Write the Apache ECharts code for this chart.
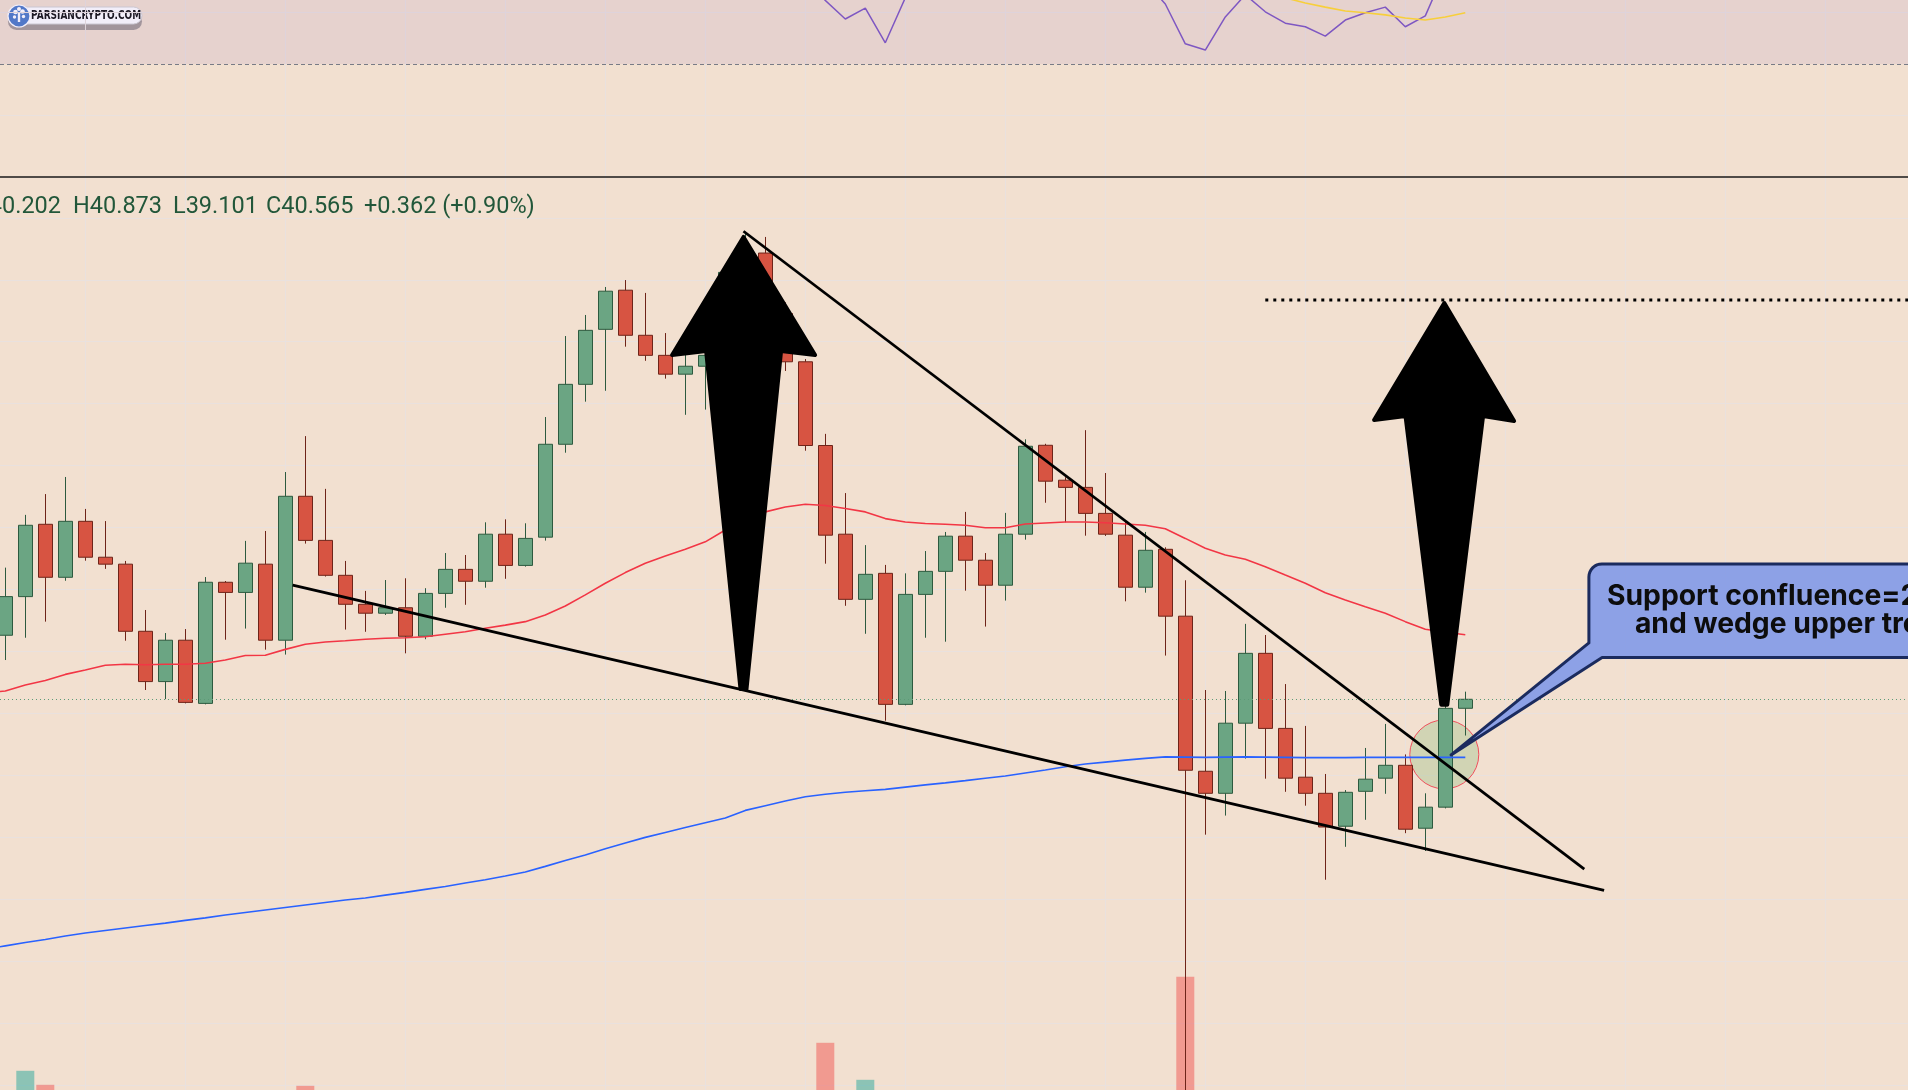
<!DOCTYPE html>
<html>
<head>
<meta charset="utf-8">
<script src="https://cdn.jsdelivr.net/npm/echarts@6/dist/echarts.min.js"></script>
<style>
html,body{margin:0;padding:0;background:#f2e0d0;overflow:hidden;}
#c{width:1908px;height:1090px;}
</style>
</head>
<body>
<div id="c"></div>
<script>
// ================= DATA =================
// daily candles (index 0 = first visible bar)
const candleOpen = [43.15,44.71,47.63,45.49,47.75,46.30,46.02,43.31,41.28,42.95,
  40.40,45.29,44.88,46.02,42.95,48.76,46.98,45.57,44.40,44.04,
  44.26,43.11,44.84,45.81,45.33,47.23,45.97,47.11,50.86,53.28,
  55.50,57.08,55.26,54.45,53.69,54.01,54.45,57.76,58.58,56.14,
  54.19,50.81,47.23,44.60,45.65,40.36,44.80,45.73,47.15,46.18,
  45.17,47.23,50.82,49.41,49.12,48.07,47.19,45.09,46.62,43.92,
  37.66,36.77,39.60,42.42,39.39,37.42,36.77,35.44,36.85,37.38,
  37.90,35.36,36.21,40.202];
const candleClose = [44.71,47.59,45.49,47.75,46.30,46.02,43.31,41.28,42.95,40.44,
  45.29,44.88,46.06,42.95,48.76,46.98,45.57,44.40,44.04,44.26,
  43.11,44.84,45.81,45.33,47.23,45.97,47.06,50.86,53.28,55.46,
  57.04,55.26,54.45,53.69,54.01,54.45,57.80,58.61,56.14,54.19,
  50.81,47.19,44.60,45.61,40.36,44.80,45.73,47.15,46.18,45.17,
  47.23,50.78,49.37,49.12,48.07,47.23,45.09,46.58,43.92,37.70,
  36.77,39.60,42.42,39.39,37.38,36.77,35.41,36.81,37.34,37.90,
  35.32,36.21,40.20,40.565];
const candleLow = [42.15,43.05,43.70,45.35,46.16,45.83,42.93,40.94,40.57,40.40,
  40.36,42.97,43.42,42.57,42.37,46.85,45.52,43.38,43.29,43.97,
  42.42,42.99,44.26,44.38,45.07,45.43,45.92,46.97,50.52,52.58,
  53.02,54.80,54.23,53.51,52.05,52.26,53.89,57.28,55.23,53.82,
  50.60,46.04,44.34,43.21,39.70,40.32,43.05,42.89,44.95,43.50,
  44.55,47.01,48.50,47.71,47.17,47.16,44.52,44.87,42.33,24.00,
  35.10,35.87,38.17,37.36,36.83,36.27,33.28,34.61,35.70,36.75,
  35.16,34.44,36.16,39.101];
const candleHigh = [45.88,48.01,48.85,49.54,48.25,47.76,46.15,44.17,43.24,43.40,
  45.50,45.34,46.96,47.36,49.74,51.19,49.06,46.15,44.94,45.38,
  45.45,45.05,46.47,46.39,47.71,47.83,47.67,51.96,55.23,56.08,
  57.21,57.49,56.97,55.35,54.67,54.60,58.03,59.44,59.23,56.59,
  54.30,51.28,48.89,46.79,45.99,45.65,46.55,47.32,48.13,46.47,
  48.09,51.06,50.88,49.53,51.43,49.70,47.74,47.32,46.70,45.37,
  40.94,40.90,43.61,43.16,41.18,39.49,37.55,36.90,38.60,39.57,
  38.34,36.77,40.77,40.873];
const volume = [40,76,62,35,30,28,42,45,38,44,
  50,30,33,46,52,61,40,32,26,24,
  30,28,26,25,34,30,27,48,50,44,
  42,40,33,30,28,26,47,38,45,40,
  50,104,54,67,55,52,36,38,32,30,
  34,48,36,28,40,33,44,35,50,170,
  55,50,46,44,40,32,45,36,30,33,
  42,34,52,20];
// moving averages; the first value belongs to the bar just left of the view
const ma50 = [40.83,
  40.90,41.14,41.32,41.57,41.75,41.94,41.98,41.96,41.98,41.98,
  42.02,42.15,42.33,42.34,42.58,42.79,42.88,42.93,42.99,43.03,
  43.05,43.09,43.19,43.29,43.43,43.56,43.70,43.97,44.33,44.78,
  45.25,45.68,46.06,46.35,46.62,46.92,47.40,47.88,48.13,48.33,
  48.44,48.39,48.27,48.13,47.86,47.72,47.66,47.63,47.59,47.49,
  47.49,47.64,47.68,47.72,47.72,47.69,47.64,47.59,47.45,47.06,
  46.66,46.39,46.22,45.92,45.58,45.25,44.87,44.57,44.30,44.04,
  43.70,43.39,43.27,43.17];
const ma200 = [30.47,
  30.61,30.75,30.87,31.01,31.13,31.23,31.33,31.43,31.53,31.64,
  31.74,31.86,31.96,32.06,32.16,32.26,32.36,32.46,32.54,32.66,
  32.77,32.89,33.01,33.15,33.28,33.43,33.59,33.82,34.06,34.28,
  34.53,34.76,34.99,35.19,35.39,35.58,35.77,36.08,36.27,36.46,
  36.63,36.73,36.81,36.87,36.93,37.02,37.11,37.19,37.28,37.38,
  37.47,37.59,37.71,37.84,37.95,38.03,38.11,38.18,38.24,38.23,
  38.22,38.23,38.24,38.23,38.22,38.21,38.21,38.21,38.22,38.22,
  38.22,38.22,38.22,38.22];
const rsi = [58,64,57,62,58,57,49,45,50,44,
  58,57,60,50,63,57,53,50,49,50,
  47,52,55,53,58,54,57,66,71,74,
  77,69,66,63,64,65,72,74,64,57,
  46.5,42.3,38.7,40.8,34.1,42.8,44.5,48,46,44,
  49,56,52,51,48,46,45,46,41.6,33.9,
  32.7,39.1,43.4,40.1,37.9,37.2,35.4,38.5,39.9,41.0,
  37.2,39.3,48.2,47.2];
const rsiMa = [56,56.5,56.3,56.8,56.9,57,56.5,55.8,55.4,54.7,
  55,54.9,55.2,54.6,55,54.9,54.5,54.2,53.9,53.6,
  53.1,52.9,53.4,53.6,54,54.3,54.5,55.5,56.8,58.4,
  60.1,61.3,62.5,63.3,64.3,65.2,66.6,68,68.4,68.2,
  66.6,64.5,61.8,59.5,56.8,54.6,52.8,51.2,49.4,47.5,
  46.3,46,46.3,46.6,47.5,47.3,47.1,46.9,46.6,46,
  45.4,44.9,44.4,43.6,42.8,41.8,41.0,40.25,39.9,39.5,
  38.9,38.5,39.1,39.9];
const lastOHLC = {o: 40.202, h: 40.873, l: 39.101, c: 40.565, chg: 0.362, pct: 0.90};
const timeSlots = 96;               // visible bars + empty future slots
const verticalGridBars = [4,9,14,20,25,30,35,40,45,50,55,60,65,70,75,81,86,91];
const rsiBand = [30, 70];
const rsiGridStep = 20;
const priceGridStep = 2.5;
// drawings (bar index, price)
const lowerTrend = [[14.37,45.17],[79.94,32.85]];
const upperTrend = [[36.91,59.46],[78.95,33.71]];
const targetLevel = [[63.0,56.68],[97,56.68]];
const arrowShapes = [
  [[36.91,59.23],[40.49,54.46],[38.79,54.63],[37.06,40.98],[36.76,40.98],[35.04,54.63],[33.34,54.46]],
  [[71.95,56.56],[75.44,51.80],[73.89,52.00],[72.10,40.34],[71.80,40.34],[70.01,52.00],[68.44,51.84]]
];
const circleMark = [71.95, 38.34];
const calloutTip = [72.29, 38.32];
const calloutBoxTopLeft = [79.18, 46.03];
const calloutBaseLeft = [79.18, 42.84];
const calloutBaseBottom = [79.84, 42.25];
const calloutLines = ['Support confluence=200 MA', 'and wedge upper trendline'];

// ================= CHART =================
const X_MIN = -0.265, X_MAX = 95.135;
const GRID_C = '#e9e1de';
const categories = Array.from({length: timeSlots}, (_, i) => 'B' + i);
const vSet = new Set(verticalGridBars);

const candleData = candleOpen.map((o, i) => [i, o, candleClose[i], candleLow[i], candleHigh[i]]);
const volData = volume.map((v, i) => ({
  value: [i, v],
  itemStyle: {color: candleClose[i] >= candleOpen[i] ? 'rgba(38,166,154,0.5)' : 'rgba(239,83,80,0.5)'}
}));
const pair = arr => arr.map((v, i) => [i, v]);
const pairFromPrev = arr => arr.map((v, i) => [i - 1, v]);

const chart = echarts.init(document.getElementById('c'), null, {renderer: 'canvas', width: 1908, height: 1090});

const hiddenAxisParts = {axisLine: {show: false}, axisTick: {show: false}, axisLabel: {show: false}};
const txt = (text, x, y, font, fill, align) => ({type: 'text', z: 50, silent: true,
  style: {text, x, y, font, fill, align, verticalAlign: 'middle', textAlign: align, textVerticalAlign: 'middle'}});

const option = {
  animation: false,
  backgroundColor: '#f2e0d0',
  grid: [
    {left: 5.3, width: 1900, top: 0, height: 1090},          // time gridlines for both panes
    {left: 0, width: 1908, top: 0, height: 219.1},            // RSI pane
    {left: 0, width: 1908, top: 177, height: 907.85},         // price pane (bottom = price 25)
    {left: 0, width: 1908, top: 177, height: 913}             // volume overlay
  ],
  xAxis: [
    Object.assign({type: 'category', gridIndex: 0, data: categories, boundaryGap: false,
      splitLine: {show: true, interval: (i) => vSet.has(i), lineStyle: {color: GRID_C, width: 1}}}, hiddenAxisParts),
    {type: 'value', gridIndex: 1, min: X_MIN, max: X_MAX, show: false},
    {type: 'value', gridIndex: 2, min: X_MIN, max: X_MAX, position: 'top',
      axisLine: {show: true, onZero: false, lineStyle: {color: '#1a1a1a', width: 1.5}},
      axisTick: {show: false}, axisLabel: {show: false}, splitLine: {show: false}},
    {type: 'value', gridIndex: 3, min: X_MIN, max: X_MAX, show: false}
  ],
  yAxis: [
    {type: 'value', gridIndex: 0, show: false},
    Object.assign({type: 'value', gridIndex: 1, min: 0, max: 42.38, interval: rsiGridStep,
      splitLine: {show: true, showMinLine: false, showMaxLine: false, lineStyle: {color: GRID_C, width: 1}}}, hiddenAxisParts),
    Object.assign({type: 'value', gridIndex: 2, min: 25, max: 61.65, interval: priceGridStep,
      splitLine: {show: true, showMaxLine: false, lineStyle: {color: GRID_C, width: 1}}}, hiddenAxisParts),
    {type: 'value', gridIndex: 3, min: 56.8, max: 969.8, show: false}
  ],
  series: [
    // RSI pane
    {type: 'line', name: 'RSI', xAxisIndex: 1, yAxisIndex: 1, data: pair(rsi), symbol: 'none', silent: true, z: 3,
      lineStyle: {color: '#7e57c2', width: 1.5},
      markArea: {silent: true, itemStyle: {color: 'rgba(126,87,194,0.1)'}, data: [[{yAxis: rsiBand[0]}, {yAxis: rsiBand[1]}]]},
      markLine: {silent: true, symbol: 'none', label: {show: false}, lineStyle: {color: '#787b86', type: [4, 3], width: 1}, data: [{yAxis: rsiBand[0]}]}},
    {type: 'line', name: 'RSI MA', xAxisIndex: 1, yAxisIndex: 1, data: pair(rsiMa), symbol: 'none', silent: true, z: 3,
      lineStyle: {color: '#f7cf3b', width: 1.6}},
    // volume
    {type: 'bar', name: 'Volume', xAxisIndex: 3, yAxisIndex: 3, data: volData, barWidth: 18, silent: true, z: 1},
    // highlight circle
    {type: 'custom', xAxisIndex: 2, yAxisIndex: 2, data: [circleMark], silent: true, z: 2,
      renderItem: (params, api) => {
        const c = api.coord([api.value(0), api.value(1)]);
        return {type: 'circle', shape: {cx: c[0], cy: c[1], r: 34.5},
          style: {fill: 'rgba(165,195,140,0.42)', stroke: '#ef4f5c', lineWidth: 1}};
      }},
    // candles
    {type: 'candlestick', name: 'Price', xAxisIndex: 2, yAxisIndex: 2, data: candleData,
      encode: {x: 0, y: [1, 2, 3, 4]}, barWidth: 14, clip: false, silent: true, z: 3,
      itemStyle: {color: '#6ba583', color0: '#d75442', borderColor: '#2d5a3f', borderColor0: '#6e2419', borderWidth: 1},
      markLine: {silent: true, symbol: 'none', label: {show: false},
        lineStyle: {color: '#5d9b78', type: [1, 3], width: 1}, data: [{yAxis: lastOHLC.c}]}},
    // moving averages
    {type: 'line', name: 'MA50', xAxisIndex: 2, yAxisIndex: 2, data: pairFromPrev(ma50), symbol: 'none', silent: true, z: 4,
      lineStyle: {color: '#f23645', width: 1.6}},
    {type: 'line', name: 'MA200', xAxisIndex: 2, yAxisIndex: 2, data: pairFromPrev(ma200), symbol: 'none', silent: true, z: 4,
      lineStyle: {color: '#2962ff', width: 1.6}},
    // wedge lines
    {type: 'line', xAxisIndex: 2, yAxisIndex: 2, data: lowerTrend, symbol: 'none', silent: true, z: 5,
      lineStyle: {color: '#000', width: 2.8}},
    {type: 'line', xAxisIndex: 2, yAxisIndex: 2, data: upperTrend, symbol: 'none', silent: true, z: 5,
      lineStyle: {color: '#000', width: 2.8}},
    {type: 'line', xAxisIndex: 2, yAxisIndex: 2, data: targetLevel, symbol: 'none', silent: true, z: 5,
      lineStyle: {color: '#000', width: 3, type: [3, 5]}},
    // arrows
    {type: 'custom', xAxisIndex: 2, yAxisIndex: 2, data: arrowShapes.map(s => s[0]), silent: true, z: 6,
      renderItem: (params, api) => {
        const pts = arrowShapes[params.dataIndex].map(p => api.coord(p));
        return {type: 'polygon', shape: {points: pts},
          style: {fill: '#000', stroke: '#000', lineWidth: 4, lineJoin: 'round'}};
      }},
    // callout
    {type: 'custom', xAxisIndex: 2, yAxisIndex: 2, data: [calloutTip], silent: true, z: 7,
      renderItem: (params, api) => {
        const tip = api.coord([api.value(0), api.value(1)]);
        const tl = api.coord(calloutBoxTopLeft);
        const lb = api.coord(calloutBaseLeft);
        const bb = api.coord(calloutBaseBottom);
        const right = api.coord([110, 40])[0];
        const r = 13;
        const pts = [lb, [tl[0], tl[1] + r]];
        for (let a = 1; a < 8; a++) {
          const t = Math.PI + a * (Math.PI / 2) / 8;
          pts.push([tl[0] + r + r * Math.cos(t), tl[1] + r + r * Math.sin(t)]);
        }
        pts.push([tl[0] + r, tl[1]], [right, tl[1]], [right, bb[1]], bb, tip);
        const font = 'bold 28.3px Inter, Roboto, sans-serif';
        return {type: 'group', children: [
          {type: 'polygon', shape: {points: pts},
            style: {fill: '#8da1e6', stroke: '#1b2b5e', lineWidth: 3, lineJoin: 'round'}},
          {type: 'text', style: {text: calloutLines[0], x: tl[0] + 18, y: tl[1] + 32.5, font: font, fill: '#0d0d0d',
            align: 'left', verticalAlign: 'middle', textAlign: 'left', textVerticalAlign: 'middle'}},
          {type: 'text', style: {text: calloutLines[1], x: tl[0] + 46, y: tl[1] + 60.5, font: font, fill: '#0d0d0d',
            align: 'left', verticalAlign: 'middle', textAlign: 'left', textVerticalAlign: 'middle'}}
        ]};
      }}
  ],
  graphic: [
    // OHLC legend
    txt('O' + lastOHLC.o.toFixed(3), 61, 207, '23.5px Roboto, sans-serif', '#22573a', 'right'),
    txt('H' + lastOHLC.h.toFixed(3), 73, 207, '23.5px Roboto, sans-serif', '#22573a', 'left'),
    txt('L' + lastOHLC.l.toFixed(3), 173, 207, '23.5px Roboto, sans-serif', '#22573a', 'left'),
    txt('C' + lastOHLC.c.toFixed(3), 266, 207, '23.5px Roboto, sans-serif', '#22573a', 'left'),
    txt('+' + lastOHLC.chg.toFixed(3) + ' (+' + lastOHLC.pct.toFixed(2) + '%)', 364, 207, '23.5px Roboto, sans-serif', '#22573a', 'left'),
    // watermark logo
    {type: 'group', z: 60, silent: true, children: [
      {type: 'rect', shape: {x: 8, y: 13, width: 134, height: 17, r: 8.5}, style: {fill: 'rgba(140,134,134,0.75)'}},
      {type: 'rect', shape: {x: 14, y: 7, width: 128, height: 17, r: 8.5}, style: {fill: '#ffffff', stroke: '#d4d4d4', lineWidth: 1}},
      {type: 'circle', shape: {cx: 19, cy: 16, r: 11}, style: {fill: '#4d7cc9', stroke: '#ffffff', lineWidth: 1.2}},
      {type: 'rect', shape: {x: 17.8, y: 13, width: 2.4, height: 9}, style: {fill: '#ffffff'}},
      {type: 'circle', shape: {cx: 15.5, cy: 12, r: 2.3}, style: {fill: '#ffffff'}},
      {type: 'circle', shape: {cx: 22.5, cy: 11.5, r: 2.3}, style: {fill: '#ffffff'}},
      {type: 'circle', shape: {cx: 19, cy: 9, r: 2}, style: {fill: '#ffffff'}},
      {type: 'circle', shape: {cx: 14.5, cy: 17, r: 1.7}, style: {fill: '#ffffff'}},
      {type: 'circle', shape: {cx: 23.5, cy: 16.5, r: 1.7}, style: {fill: '#ffffff'}},
      {type: 'text', x: 31, y: 16, scaleX: 0.8, scaleY: 1,
        style: {text: 'PARSIANCRYPTO.COM', x: 0, y: 0, font: 'bold 12.5px "Liberation Sans Narrow", "DejaVu Sans Condensed", sans-serif',
        fill: '#111111', align: 'left', verticalAlign: 'middle', textAlign: 'left', textVerticalAlign: 'middle'}}
    ]}
  ]
};
chart.setOption(option);
</script>
</body>
</html>
